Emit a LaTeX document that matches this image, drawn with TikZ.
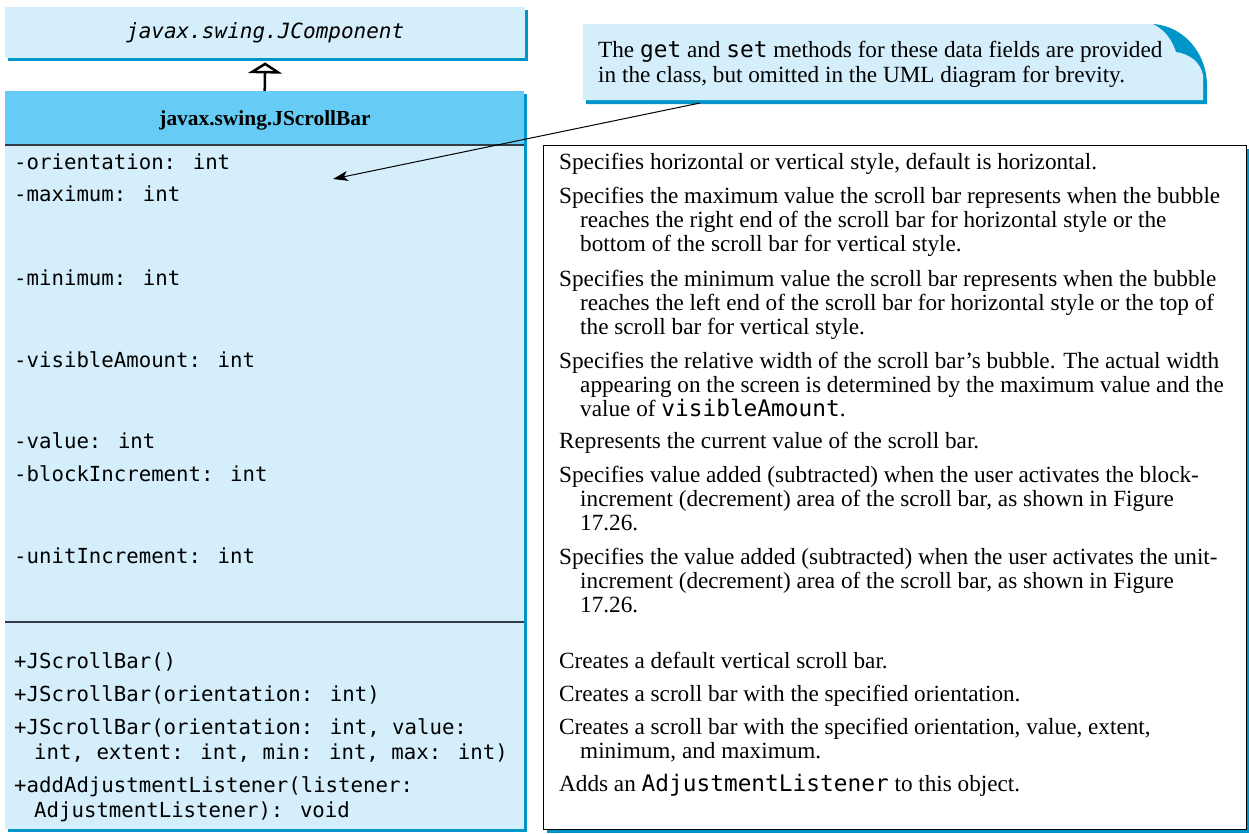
\documentclass[tikz,border=0pt]{standalone}
\usepackage{fontspec}
\setmainfont{Liberation Serif}
\newfontfamily\monofont{DejaVu Sans Mono}
\usetikzlibrary{arrows.meta,shadows}
\definecolor{lightfill}{RGB}{212,238,251}
\definecolor{headfill}{RGB}{102,204,245}
\definecolor{shadowblue}{RGB}{0,150,201}
\definecolor{rulegray}{RGB}{50,60,70}
\begin{document}
\begin{tikzpicture}[x=1pt,y=-1pt,
  mono/.style={anchor=base west, inner sep=0pt, font=\monofont\fontsize{20.7}{25}\selectfont},
  desc/.style={anchor=base west, inner sep=0pt, font=\fontsize{23.2}{24}\selectfont},
  umlbox/.style={fill=lightfill, inner sep=0pt, anchor=north west,
    drop shadow={shadow xshift=3pt, shadow yshift=-3pt, fill=shadowblue, opacity=1}},
]
\useasboundingbox (0,0) rectangle (1249,833);
\newcommand{\im}[1]{{\monofont\fontsize{22.8}{24}\selectfont #1}}

% superclass box
\node[umlbox, minimum width=520pt, minimum height=51pt,
  font=\monofont\itshape\fontsize{21}{25}\selectfont] (jc) at (5,7) {javax.swing.JComponent};

% JScrollBar box
\node[umlbox, minimum width=519pt, minimum height=738pt] (sb) at (5,91) {};
\fill[headfill] (sb.north west) rectangle ([yshift=-54pt]sb.north east);
\draw[rulegray, line width=1.5pt] ([yshift=-54pt]sb.north west) -- ([yshift=-54pt]sb.north east);
\draw[rulegray, line width=1.5pt] ([yshift=-531pt]sb.north west) -- ([yshift=-531pt]sb.north east);
\node[anchor=base, inner sep=0pt, font=\bfseries\fontsize{21.4}{24}\selectfont] (sbname) at (265,125) {javax.swing.JScrollBar};

% inheritance arrow
\draw[line width=2.5pt, -{Triangle[open, width=34pt, length=11pt, line width=2.5pt]}]
  (sb.north) -- ([yshift=-4pt]jc.south);

% description box
\node[fill=white, draw=black, line width=1pt, inner sep=0pt, anchor=north west,
  minimum width=703pt, minimum height=684pt,
  drop shadow={shadow xshift=3pt, shadow yshift=-3pt, fill=shadowblue, opacity=1}] (desc) at (543,145) {};

% note bubble
\fill[shadowblue] (586,27) -- (1153,24) .. controls (1185,26) and (1207,55) .. (1207,85) -- (1207,104) -- (586,104) -- cycle;
\fill[lightfill] (583,24) -- (1153,24) .. controls (1165,30) and (1172,40) .. (1176,52)
  .. controls (1190,54) and (1200,62) .. (1203,75) -- (1203,100) -- (583,100) -- cycle;
\node[desc] (n1) at (598,57) {The \im{get} and \im{set} methods for these data fields are provided};
\node[desc] (n2) at (598,82) {in the class, but omitted in the UML diagram for brevity.};
\coordinate (notefoot) at (700,103);
\coordinate (attrtip) at (333,179);
\draw[line width=1pt, -{Stealth[length=15pt, width=10pt, inset=4pt]}] (notefoot) -- (attrtip);

% attributes
\node[mono] (a1) at (14,169) {-orientation: int};
\node[mono] (a2) at (14,201) {-maximum: int};
\node[mono] (a3) at (14,285) {-minimum: int};
\node[mono] (a4) at (14,367) {-visibleAmount: int};
\node[mono] (a5) at (14,448) {-value: int};
\node[mono] (a6) at (14,481) {-blockIncrement: int};
\node[mono] (a7) at (14,563) {-unitIncrement: int};

% methods
\node[mono] (m1) at (14,668) {+JScrollBar()};
\node[mono] (m2) at (14,701) {+JScrollBar(orientation: int)};
\node[mono] (m3) at (14,734) {+JScrollBar(orientation: int, value:};
\node[mono] (m3b) at (34,759) {int, extent: int, min: int, max: int)};
\node[mono] (m4) at (14,792) {+addAdjustmentListener(listener:};
\node[mono] (m4b) at (34,817) {AdjustmentListener): void};

% descriptions
\node[desc] (d1) at (559,169) {Specifies horizontal or vertical style, default is horizontal.};
\node[desc] (d2) at (559,203) {Specifies the maximum value the scroll bar represents when the bubble};
\node[desc] (d2b) at (580,227) {reaches the right end of the scroll bar for horizontal style or the};
\node[desc] (d2c) at (580,251) {bottom of the scroll bar for vertical style.};
\node[desc] (d3) at (559,286) {Specifies the minimum value the scroll bar represents when the bubble};
\node[desc] (d3b) at (580,310) {reaches the left end of the scroll bar for horizontal style or the top of};
\node[desc] (d3c) at (580,334) {the scroll bar for vertical style.};
\node[desc] (d4) at (559,368) {Specifies the relative width of the scroll bar’s bubble. The actual width};
\node[desc] (d4b) at (580,392) {appearing on the screen is determined by the maximum value and the};
\node[desc] (d4c) at (580,416) {value of \im{visibleAmount}.};
\node[desc] (d5) at (559,448) {Represents the current value of the scroll bar.};
\node[desc] (d6) at (559,482) {Specifies value added (subtracted) when the user activates the block-};
\node[desc] (d6b) at (580,506) {increment (decrement) area of the scroll bar, as shown in Figure};
\node[desc] (d6c) at (580,530) {17.26.};
\node[desc] (d7) at (559,564) {Specifies the value added (subtracted) when the user activates the unit-};
\node[desc] (d7b) at (580,588) {increment (decrement) area of the scroll bar, as shown in Figure};
\node[desc] (d7c) at (580,612) {17.26.};
\node[desc] (d8) at (559,668) {Creates a default vertical scroll bar.};
\node[desc] (d9) at (559,701) {Creates a scroll bar with the specified orientation.};
\node[desc] (d10) at (559,734) {Creates a scroll bar with the specified orientation, value, extent,};
\node[desc] (d10b) at (580,758) {minimum, and maximum.};
\node[desc] (d11) at (559,791) {Adds an \im{AdjustmentListener} to this object.};
\end{tikzpicture}
\end{document}
